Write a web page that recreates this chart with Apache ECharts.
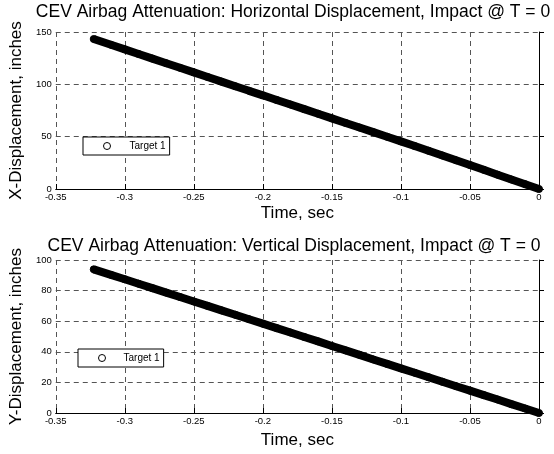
<!DOCTYPE html>
<html>
<head>
<meta charset="utf-8">
<script src="https://cdn.jsdelivr.net/npm/echarts@6/dist/echarts.min.js"></script>
<style>
html,body{margin:0;padding:0;background:#fff;}
#c{width:554px;height:454px;}
</style>
</head>
<body>
<div id="c"></div>
<script>
// Time (sec)
const timeTop = [-0.3225, -0.31, -0.30, -0.29, -0.28, -0.27, -0.26, -0.25, -0.24, -0.23, -0.22, -0.21, -0.20, -0.19, -0.18, -0.17, -0.16, -0.15, -0.14, -0.13, -0.12, -0.11, -0.10, -0.09, -0.08, -0.07, -0.06, -0.05, -0.04, -0.03, -0.02, -0.01, 0.0];
// X-Displacement (inches)
const xDisp = [143.3, 137.8, 133.4, 129.0, 124.6, 120.2, 115.8, 111.4, 107.0, 102.6, 98.2, 93.8, 89.5, 85.1, 80.7, 76.3, 71.9, 67.5, 63.1, 58.7, 54.3, 49.9, 45.5, 41.0, 36.5, 32.0, 27.4, 22.9, 18.3, 13.7, 9.1, 4.6, 0.0];
const timeBot = timeTop;
// Y-Displacement (inches)
const yDisp = [93.9, 90.3, 87.4, 84.5, 81.6, 78.7, 75.8, 72.9, 70.0, 67.1, 64.2, 61.3, 58.4, 55.5, 52.6, 49.7, 46.8, 43.8, 40.9, 38.0, 35.0, 32.1, 29.2, 26.3, 23.4, 20.4, 17.5, 14.6, 11.7, 8.8, 5.8, 2.9, 0.0];

const xTicks = [-0.35, -0.3, -0.25, -0.2, -0.15, -0.1, -0.05, 0];
const titles = ['CEV Airbag Attenuation: Horizontal Displacement, Impact @ T = 0',
                'CEV Airbag Attenuation: Vertical Displacement, Impact @ T = 0'];
const yNames = ['X-Displacement, inches', 'Y-Displacement, inches'];
const xName = 'Time, sec';
const seriesName = 'Target 1';

const FONT = 'Liberation Sans, Arial, sans-serif';
const gridDash = { color: '#555', width: 1, type: [5, 4] };

function xAxis(gi) {
  return {
    type: 'value', gridIndex: gi, min: -0.35, max: 0, interval: 0.05,
    name: xName, nameLocation: 'middle', nameGap: gi === 0 ? 16 : 19,
    nameTextStyle: { fontFamily: FONT, fontSize: 17, color: '#000' },
    axisLine: { show: true, onZero: false, lineStyle: { color: '#000', width: 1 } },
    axisTick: { show: true, inside: true, length: 5, lineStyle: { color: '#000' } },
    axisLabel: { fontFamily: FONT, fontSize: 9.5, color: '#000', margin: 3,
      formatter: v => { const t = xTicks.find(k => Math.abs(k - v) < 1e-9); return t === undefined ? '' : String(t); } },
    splitLine: { show: true, lineStyle: gridDash }
  };
}
function yAxis(gi, max, interval) {
  return {
    type: 'value', gridIndex: gi, min: 0, max: max, interval: interval,
    name: yNames[gi], nameLocation: 'middle', nameGap: 27,
    nameTextStyle: { fontFamily: FONT, fontSize: 17, color: '#000' },
    axisLine: { show: true, lineStyle: { color: '#000', width: 1 } },
    axisTick: { show: true, inside: true, length: 5, lineStyle: { color: '#000' } },
    axisLabel: { fontFamily: FONT, fontSize: 9.5, color: '#000', margin: 4 },
    splitLine: { show: true, lineStyle: gridDash }
  };
}
function legend(gi, left, top, padL, gap) {
  return {
    seriesIndex: gi,
    data: [{ name: seriesName, icon: 'circle' }],
    left: left, top: top, orient: 'vertical',
    itemWidth: 7, itemHeight: 7,
    padding: [4, 4, 4, padL],
    borderColor: '#000', borderWidth: 1, backgroundColor: '#fff', borderRadius: 0,
    itemStyle: { color: '#fff', borderColor: '#000', borderWidth: 1 },
    lineStyle: { width: 0, opacity: 0 },
    textStyle: { fontFamily: FONT, fontSize: 10, color: '#000', padding: [0, 0, 0, gap] },
    selectedMode: false
  };
}
function series(gi, t, v) {
  return {
    type: 'line', name: seriesName, xAxisIndex: gi, yAxisIndex: gi,
    data: t.map((x, i) => [x, v[i]]),
    symbol: 'circle', symbolSize: 7, showSymbol: true,
    itemStyle: { color: '#000', borderColor: '#000', borderWidth: 1 },
    lineStyle: { color: '#000', width: 8 },
    animation: false, z: 3
  };
}

const chart = echarts.init(document.getElementById('c'), null, { renderer: 'canvas' });
chart.setOption({
  backgroundColor: '#fff',
  animation: false,
  title: [
    { text: titles[0], left: 293, top: 3, padding: 0, textAlign: 'center',
      textStyle: { fontFamily: FONT, fontSize: 17.5, fontWeight: 'normal', color: '#000' } },
    { text: titles[1], left: 294, top: 237, padding: 0, textAlign: 'center',
      textStyle: { fontFamily: FONT, fontSize: 17.5, fontWeight: 'normal', color: '#000' } }
  ],
  grid: [
    { left: 51, right: 15, top: 32, height: 157 },
    { left: 51, right: 15, top: 260, height: 153 }
  ],
  xAxis: [xAxis(0), xAxis(1)],
  yAxis: [yAxis(0, 150, 50), yAxis(1, 100, 20)],
  legend: [legend(0, 83, 137, 20, 14), legend(1, 78, 349, 20, 13)],
  series: [series(0, timeTop, xDisp), series(1, timeBot, yDisp)]
});
</script>
</body>
</html>
